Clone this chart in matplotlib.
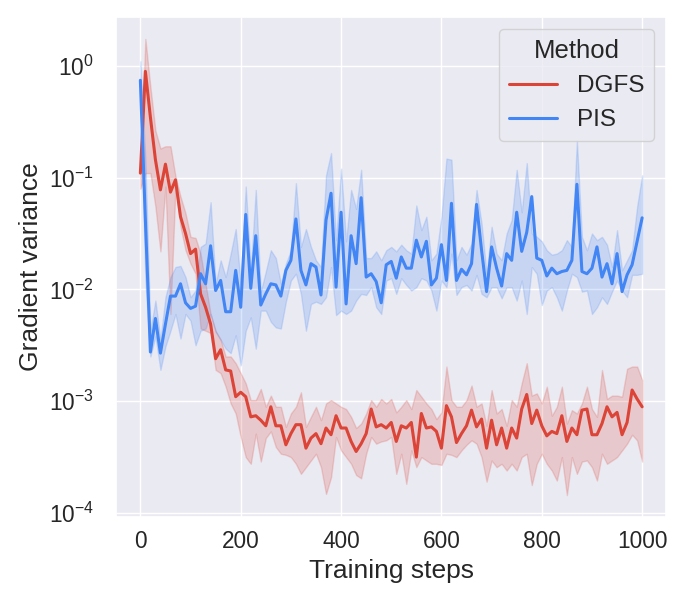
import numpy as np
import matplotlib
matplotlib.use("Agg")
import matplotlib.pyplot as plt
import seaborn as sns

# training steps, one point every 10 steps
steps = np.arange(0, 1001, 10)

# log10 of gradient variance
dgfs_mean = [
    -0.96, -0.05, -0.46, -0.84, -1.11, -0.88, -1.13, -1.02, -1.35, -1.50,
    -1.68, -1.64, -2.04, -2.16, -2.31, -2.62, -2.54, -2.72, -2.73, -2.96,
    -2.92, -2.96, -3.14, -3.13, -3.17, -3.22, -3.05, -3.22, -3.22, -3.39,
    -3.29, -3.21, -3.21, -3.42, -3.33, -3.29, -3.38, -3.24, -3.30, -3.13,
    -3.24, -3.24, -3.36, -3.45, -3.38, -3.29, -3.07, -3.23, -3.21, -3.24,
    -3.19, -3.36, -3.22, -3.24, -3.19, -3.50, -3.11, -3.24, -3.23, -3.27,
    -3.42, -3.04, -3.14, -3.37, -3.29, -3.22, -3.08, -3.23, -3.16, -3.42,
    -3.17, -3.39, -3.24, -3.42, -3.24, -3.33, -3.07, -2.94, -3.20, -3.08,
    -3.22, -3.31, -3.27, -3.29, -3.13, -3.36, -3.24, -3.30, -3.08, -3.07,
    -3.30, -3.30, -3.20, -3.05, -3.14, -3.10, -3.30, -3.19, -2.90, -2.98,
    -3.05,
]
dgfs_upper = [
    -0.95, 0.24, -0.19, -0.58, -0.74, -0.72, -0.72, -0.99, -1.17, -1.32,
    -1.53, -1.54, -1.68, -1.95, -2.22, -2.37, -2.45, -2.60, -2.60, -2.66,
    -2.75, -2.84, -2.99, -2.99, -2.89, -3.05, -2.95, -3.05, -3.05, -3.23,
    -3.11, -3.05, -2.92, -3.23, -3.14, -3.05, -3.17, -3.02, -2.99, -3.02,
    -3.05, -3.07, -3.14, -3.24, -3.20, -3.11, -2.99, -3.05, -2.98, -3.02,
    -2.98, -3.10, -3.05, -2.99, -3.07, -2.90, -2.96, -3.02, -3.07, -3.16,
    -3.10, -2.69, -2.99, -3.05, -3.05, -2.99, -2.86, -3.05, -3.02, -3.22,
    -2.90, -3.11, -3.07, -3.22, -2.99, -3.05, -2.84, -2.66, -2.95, -2.93,
    -3.02, -2.87, -3.13, -3.05, -2.87, -3.20, -3.08, -3.11, -3.02, -2.87,
    -3.07, -3.14, -2.72, -2.98, -2.95, -2.95, -2.96, -2.71, -2.69, -2.69,
    -2.81,
]
dgfs_lower = [
    -1.10, -0.96, -0.96, -1.26, -1.66, -1.08, -2.22, -1.08, -1.44, -1.65,
    -1.77, -1.86, -2.35, -2.37, -2.39, -2.72, -2.75, -2.87, -3.02, -3.11,
    -3.32, -3.50, -3.56, -3.29, -3.54, -3.33, -3.27, -3.41, -3.47, -3.48,
    -3.50, -3.56, -3.65, -3.59, -3.53, -3.47, -3.59, -3.83, -3.68, -3.32,
    -3.44, -3.50, -3.56, -3.66, -3.69, -3.47, -3.32, -3.38, -3.36, -3.35,
    -3.32, -3.65, -3.47, -3.74, -3.44, -3.59, -3.50, -3.53, -3.56, -3.56,
    -3.57, -3.47, -3.48, -3.50, -3.44, -3.39, -3.35, -3.38, -3.50, -3.72,
    -3.53, -3.59, -3.56, -3.62, -3.56, -3.62, -3.50, -3.47, -3.75, -3.56,
    -3.47, -3.56, -3.62, -3.71, -3.50, -3.84, -3.50, -3.65, -3.54, -3.53,
    -3.59, -3.71, -3.47, -3.56, -3.53, -3.50, -3.44, -3.38, -3.30, -3.35,
    -3.54,
]

pis_mean = [
    -0.13, -1.38, -2.56, -2.26, -2.57, -2.31, -2.06, -2.06, -1.95, -2.12,
    -2.17, -2.15, -1.86, -1.95, -1.61, -2.01, -1.92, -2.20, -2.20, -1.83,
    -2.16, -1.33, -1.99, -1.52, -2.14, -2.04, -1.95, -1.96, -2.06, -1.83,
    -1.74, -1.37, -1.83, -1.96, -1.77, -1.80, -2.05, -1.38, -1.14, -1.98,
    -1.31, -2.13, -1.52, -1.77, -1.18, -1.89, -1.86, -1.93, -2.12, -1.78,
    -1.75, -1.90, -1.71, -1.81, -1.81, -1.56, -1.71, -1.57, -1.96, -1.90,
    -1.60, -1.92, -1.23, -1.92, -1.82, -1.87, -1.77, -1.24, -1.65, -2.02,
    -1.62, -1.81, -1.97, -1.68, -1.74, -1.31, -1.66, -1.49, -1.17, -1.72,
    -1.74, -1.88, -1.81, -1.86, -1.84, -1.83, -1.74, -1.06, -1.84, -1.86,
    -1.81, -1.62, -1.89, -1.77, -1.95, -1.68, -2.02, -1.87, -1.78, -1.57,
    -1.36,
]
pis_upper = [
    0.04, -0.84, -2.37, -2.10, -2.45, -2.07, -1.89, -1.80, -1.79, -1.89,
    -2.07, -2.01, -1.62, -1.59, -1.22, -1.95, -1.74, -1.89, -1.68, -1.46,
    -1.95, -1.08, -1.83, -1.11, -2.02, -1.84, -1.65, -1.72, -1.95, -1.77,
    -1.65, -1.05, -1.62, -1.46, -1.62, -1.74, -1.80, -0.98, -0.78, -1.56,
    -0.92, -1.57, -1.11, -1.28, -0.93, -1.72, -1.72, -1.66, -1.74, -1.65,
    -1.62, -1.66, -1.60, -1.65, -1.68, -1.25, -1.47, -1.35, -1.74, -1.68,
    -1.35, -0.83, -0.84, -1.74, -1.62, -1.69, -1.59, -1.11, -1.41, -1.86,
    -1.44, -1.68, -1.74, -1.50, -1.38, -0.93, -1.31, -0.87, -1.50, -1.53,
    -1.57, -1.65, -1.69, -1.68, -1.65, -1.56, -1.62, -0.67, -1.53, -1.65,
    -1.50, -1.56, -1.53, -1.60, -1.80, -1.47, -1.83, -1.74, -1.65, -1.26,
    -0.98,
]
pis_lower = [
    -0.23, -1.92, -2.60, -2.42, -2.72, -2.51, -2.37, -2.22, -2.44, -2.22,
    -2.28, -2.50, -2.37, -2.35, -2.22, -2.38, -2.45, -2.53, -2.57, -2.41,
    -2.68, -2.37, -2.25, -2.53, -2.19, -2.19, -2.29, -2.34, -2.35, -2.11,
    -1.92, -1.86, -2.04, -2.37, -2.13, -2.11, -2.13, -2.07, -1.80, -2.23,
    -2.19, -2.22, -2.19, -2.10, -2.04, -2.05, -1.98, -2.16, -2.22, -1.92,
    -1.90, -2.04, -1.90, -1.96, -2.01, -1.98, -1.90, -1.92, -2.01, -2.19,
    -1.92, -1.98, -1.68, -2.05, -1.98, -1.96, -2.01, -1.87, -2.04, -2.07,
    -1.98, -1.98, -2.08, -1.98, -1.98, -2.10, -1.92, -2.22, -1.80, -1.86,
    -2.14, -2.01, -1.98, -2.07, -2.19, -2.01, -1.86, -1.89, -2.02, -2.01,
    -2.22, -2.16, -2.07, -2.13, -2.02, -1.92, -2.01, -2.07, -1.87, -1.87,
    -1.86,
]

methods = ["DGFS", "PIS"]
colors = ["#db4437", "#4285f4"]

sns.set_theme(style="darkgrid")
plt.rcParams['font.family'] = ['Liberation Sans', 'DejaVu Sans']
plt.rcParams['mathtext.fontset'] = 'custom'
plt.rcParams['mathtext.rm'] = 'Liberation Sans'
plt.rcParams['mathtext.it'] = 'Liberation Sans:italic'
plt.rcParams['mathtext.bf'] = 'Liberation Sans:bold'

fig, ax = plt.subplots(figsize=(6.84, 6.08), dpi=100)
fig.subplots_adjust(left=0.170, right=0.974, top=0.972, bottom=0.150)

series = [(dgfs_mean, dgfs_lower, dgfs_upper), (pis_mean, pis_lower, pis_upper)]
for name, col, (m, lo, hi) in zip(methods, colors, series):
    m = 10 ** np.array(m)
    lo = 10 ** np.array(lo)
    hi = 10 ** np.array(hi)
    ax.fill_between(steps, lo, hi, color=col, alpha=0.2, linewidth=1)
    ax.plot(steps, m, color=col, lw=2.2, label=name)

ax.set_yscale('log')
ax.set_xlim(-48, 1048)
ax.set_ylim(10 ** -4.034, 10 ** 0.436)
ax.set_xticks([0, 200, 400, 600, 800, 1000])
ax.tick_params(axis='both', labelsize=16.3)
ax.tick_params(axis='y', pad=10)
ax.set_xlabel('Training steps', fontsize=19)
ax.set_ylabel('Gradient variance', fontsize=19)

leg = ax.legend(title='Method', loc='upper right', fontsize=17.5, title_fontsize=18.5)

plt.savefig('out.png', dpi=100)
